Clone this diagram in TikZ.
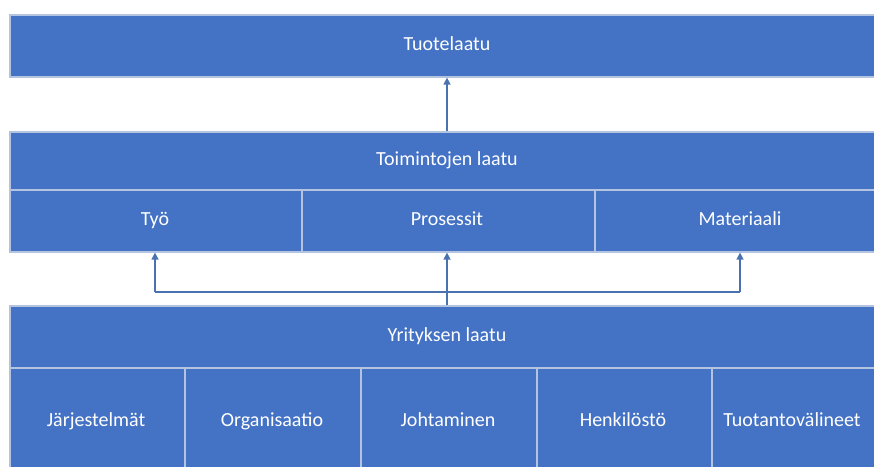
\documentclass[tikz,border=0pt]{standalone}
\usepackage{fontspec}
\setmainfont{Carlito}
\usetikzlibrary{arrows.meta}
\definecolor{boxblue}{HTML}{4472C4}
\definecolor{edge}{HTML}{B4C3E0}
\definecolor{arrowc}{HTML}{4A72B0}
\begin{document}
\begin{tikzpicture}[x=1pt,y=-1pt,
  box/.style={draw=edge,line width=1.6pt,fill=boxblue,inner sep=0pt,anchor=north west},
  lbl/.style={text=white,font=\fontsize{20}{22}\selectfont,inner sep=0pt,anchor=mid},
  conn/.style={draw=arrowc,line width=1.3pt,-{Triangle[length=7pt,width=7pt]}},
  link/.style={draw=arrowc,line width=1.3pt}]
\useasboundingbox (0,0) rectangle (874,466);
\clip (0,0) rectangle (874,466);
% top
\node[box,minimum width=880pt,minimum height=62pt] (top) at (9,14) {};
\node[lbl] (toplbl) at (447,48) {Tuotelaatu};
% middle
\node[box,minimum width=880pt,minimum height=58pt] (mid) at (9,131) {};
\node[lbl] (midlbl) at (447,163) {Toimintojen laatu};
\node[box,minimum width=292pt,minimum height=62pt] (tyo) at (9,189) {};
\node[box,minimum width=293pt,minimum height=62pt] (pros) at (301,189) {};
\node[box,minimum width=300pt,minimum height=62pt] (mat) at (594,189) {};
\node[lbl] (l1) at (155,223) {Työ};
\node[lbl] (l2) at (447,223) {Prosessit};
\node[lbl] (l3) at (740,223) {Materiaali};
% bottom
\node[box,minimum width=880pt,minimum height=62pt] (bot) at (9,305) {};
\node[lbl] (botlbl) at (447,339) {Yrityksen laatu};
\node[box,minimum width=175pt,minimum height=110pt] (b1) at (9,367) {};
\node[box,minimum width=176pt,minimum height=110pt] (b2) at (184,367) {};
\node[box,minimum width=176pt,minimum height=110pt] (b3) at (360,367) {};
\node[box,minimum width=175pt,minimum height=110pt] (b4) at (536,367) {};
\node[box,minimum width=175pt,minimum height=110pt] (b5) at (711,367) {};
\node[lbl] (t1) at (96,424) {Järjestelmät};
\node[lbl] (t2) at (272,424) {Organisaatio};
\node[lbl] (t3) at (448,424) {Johtaminen};
\node[lbl] (t4) at (623,424) {Henkilöstö};
\node[lbl] (t5) at (792,424) {Tuotantovälineet};
% connectors
\coordinate (j1) at (155,292);
\coordinate (j2) at (740,292);
\draw[conn] (mid.north -| 447,0) -- (top.south -| 447,0);
\draw[conn] (bot.north -| 447,0) -- (pros.south -| 447,0);
\draw[link] (j1) -- (j2);
\draw[conn] (j1) -- (tyo.south -| j1);
\draw[conn] (j2) -- (mat.south -| j2);
\end{tikzpicture}
\end{document}
